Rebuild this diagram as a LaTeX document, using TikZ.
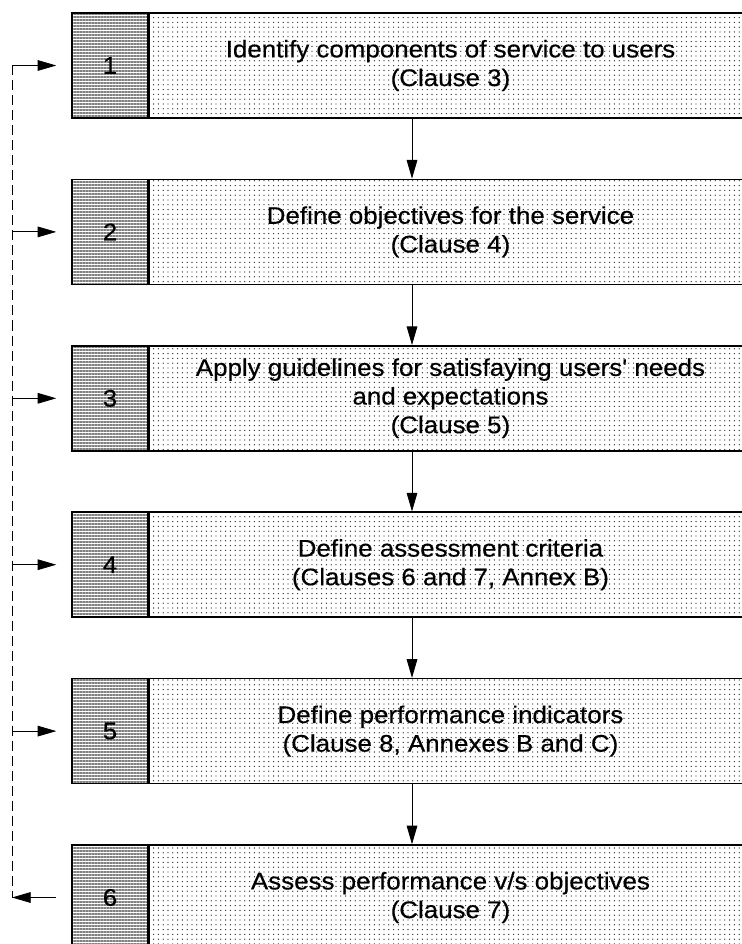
\documentclass[tikz,border=0pt]{standalone}
\usepackage{fontspec}
\setmainfont{Liberation Sans}[FakeStretch=1.08, FakeBold=0.4, Ligatures=TeXOff]
\usetikzlibrary{arrows.meta,patterns.meta}

\tikzset{
  stagefont/.style={font=\fontsize{18}{21.5}\selectfont},
  numbox/.style={draw, line width=1.1pt, stagefont, inner sep=0pt,
    minimum width=57pt, minimum height=78.75pt,
    pattern={Lines[distance=2.25pt, line width=1.1pt]}, pattern color=gray},
  textbox/.style={draw, line width=1.1pt, stagefont, anchor=west, align=center,
    minimum width=451.5pt, minimum height=78.75pt,
    pattern={Dots[distance=3.6pt, radius=0.5pt]}, pattern color=black!85},
  flow/.style={-{Triangle[length=14pt, width=8pt]}, line width=0.6pt},
  feedback/.style={dash pattern=on 7.5pt off 3.75pt, line width=0.6pt}
}

\begin{document}
\begin{tikzpicture}[x=0.75pt, y=-0.75pt]
  \useasboundingbox (0,0) rectangle (741,944);

  % stages
  \foreach \n/\txt in {1/{Identify components of service to users\\(Clause 3)},
                       2/{Define objectives for the service\\(Clause 4)},
                       3/{Apply guidelines for satisfaying users' needs\\and expectations\\(Clause 5)},
                       4/{Define assessment criteria\\(Clauses 6 and 7, Annex B)},
                       5/{Define performance indicators\\(Clause 8, Annexes B and C)},
                       6/{Assess performance v/s objectives\\(Clause 7)}} {
    \node[numbox] (num\n) at (110, {65.5+166.4*(\n-1)}) {\n};
    \node[textbox] (txt\n) at (num\n.east) {\txt};
  }

  % flow between stages
  \coordinate (ax) at (412,0);
  \foreach \i [evaluate=\i as \j using int(\i+1)] in {1,...,5}
    \draw[flow] (txt\i.south -| ax) -- (txt\j.north -| ax);

  % feedback loop
  \coordinate (lp) at (12,0);
  \draw[feedback] (num1.west -| lp) -- (num6.west -| lp);
  \foreach \i in {1,...,5}
    \draw[flow, shorten >=11.25pt] (num\i.west -| lp) -- (num\i.west);
  \draw[flow, shorten <=11.25pt] (num6.west) -- (num6.west -| lp);
\end{tikzpicture}
\end{document}
